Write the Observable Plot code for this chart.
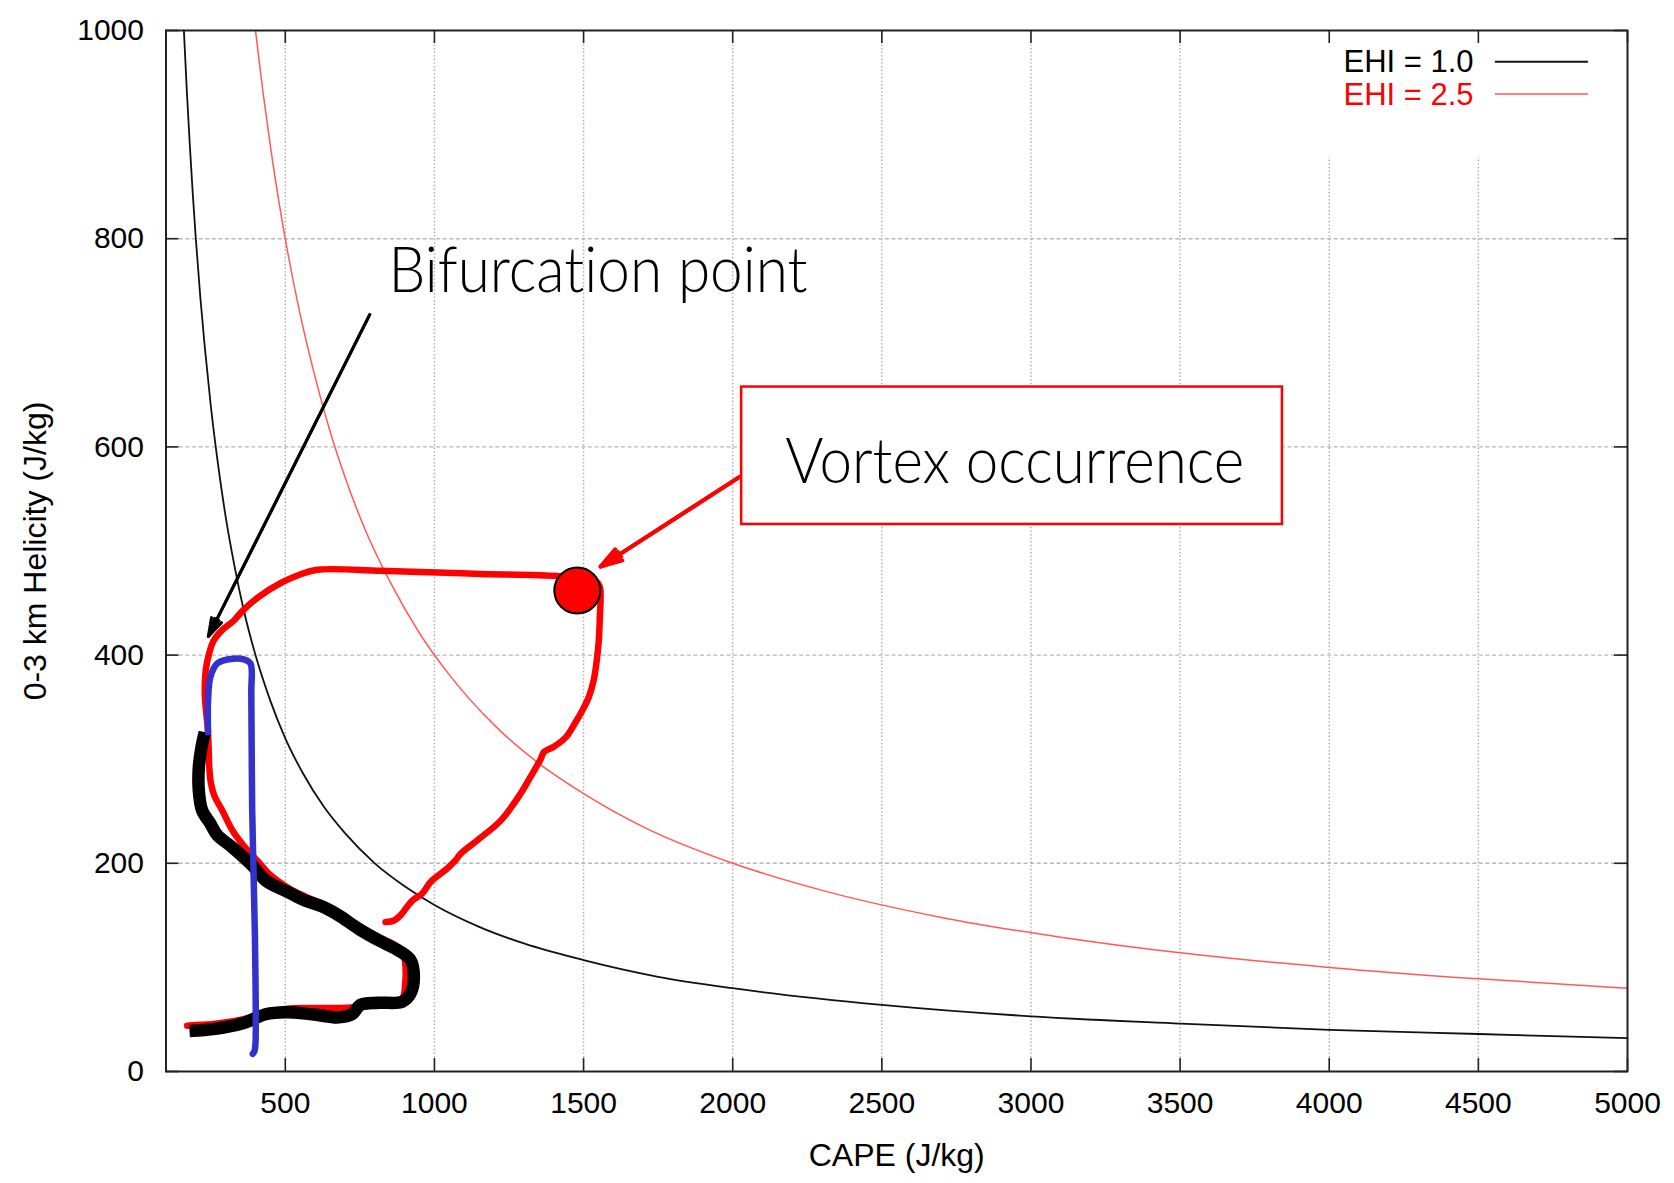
<!DOCTYPE html>
<html>
<head>
<meta charset="utf-8">
<script src="https://cdn.jsdelivr.net/npm/d3@7"></script>
<script src="https://cdn.jsdelivr.net/npm/@observablehq/plot@0.6"></script>
<style>
  html, body { margin: 0; padding: 0; background: #fff; }
  #chart { width: 1674px; height: 1183px; overflow: hidden; }
</style>
</head>
<body>
<div id="chart"></div>
<script>
// ---------------- data ----------------
const xTicks = [500, 1000, 1500, 2000, 2500, 3000, 3500, 4000, 4500, 5000];
const yTicks = [0, 200, 400, 600, 800, 1000];

// EHI = 1.0 curve (CAPE, 0-3 km helicity)
const ehi1Cape = [160,170,180,190,200,215,230,250,275,300,330,360,400,450,500,560,630,700,800,900,1000,1150,1300,1500,1750,2000,2500,3000,3500,4000,4500,5000];
const ehi1Srh  = [1000,941,889,842,800,744,696,640,582,533,485,444,400,356,320,286,254,229,200,178,160,139,123,107,91,80,64,53,46,40,36,32];

// EHI = 2.5 curve
const ehi25Cape = [400,425,450,480,510,550,600,650,700,770,850,950,1050,1200,1350,1500,1700,2000,2300,2700,3100,3500,4000,4500,5000];
const ehi25Srh  = [1000,941,889,833,784,727,667,615,571,519,471,421,381,333,296,267,235,200,174,148,129,114,100,89,80];

// red trajectory
const redCape = [171,220,266,355,434,501,590,679,740,800,860,893,902,903,896,870,813,746,679,624,568,512,445,411,360,322,290,262,250,245,243,240,234,230,233,244,260,288,327,355,411,490,545,607,819,1037,1154,1412,1470,1540,1554,1557,1555,1551,1543,1534,1518,1498,1470,1440,1400,1367,1356,1322,1289,1222,1143,1087,1071,1043,987,959,925,886,864,836];
const redSrh  = [44,45,46,50,56,60,61,61,62,64,64,70,85,100,112,121,129,140,153,161,168,176,190,201,217,232,250,265,278,293,310,330,347,363,385,401,414,424,433,442,456,470,477,482,481,479,478,476,474,471,466,455,440,414,392,376,360,348,334,321,312,307,300,283,267,241,222,209,203,195,182,171,164,150,145,143.5];

// black trajectory
const blackCape = [179,266,355,434,501,590,679,724,752,813,892,920,931,920,881,813,746,679,624,568,512,434,389,322,272,249,221,210,210,219,230];
const blackSrh  = [39,41,46,55,57,55,52,55,64,66,67,75,91,107,116,126,137,150,158.5,164,172,183.5,198,215.5,227,238,251,270,292,311.5,326];

// blue trajectory
const blueCape = [241,241,249,272,310,361,383,386,389,398,400,397,391];
const blueSrh  = [326,356,379,392,396,396,392,363,251,132,27,20,17];

// vortex occurrence point
const vortexCape = [1479];
const vortexSrh  = [462];

// legend
const legendLabels = ["EHI = 1.0", "EHI = 2.5"];

// annotation texts
const bifurcationText = "Bifurcation point";
const vortexText = "Vortex occurrence";
const xLabel = "CAPE (J/kg)";
const yLabel = "0-3 km Helicity (J/kg)";

// ---------------- layout / styles ----------------
const W = 1674, H = 1183;
const M = {left: 165.5, right: 47, top: 30, bottom: 112};
const ehiColors = ["#111111", "#ff5a5a"];
const legendTextColors = ["#000000", "#ff0000"];
const legendLayout = {textCape: 4484, lineCape1: 4557, lineCape2: 4869, baseSrh: [960, 928], lineSrh: [970, 939], blank: {x1: 3960, x2: 5000, y1: 878, y2: 1000}};
const annot = {
  bifArrow: {x1: 783, y1: 727, x2: 242, y2: 418},
  vortexArrow: {x1: 2022, y1: 571, x2: 1557, y2: 485},
  box: {x1: 2030, x2: 3843, y1: 525.5, y2: 657.5},
  bifText: {x: 846, y: 748.6},
  vortexText: {x: 2176, y: 565}
};
const annoFont = "Lato, 'Open Sans', sans-serif";
const annoWidths = {[bifurcationText]: 419, [vortexText]: 459};

const pts = (xs, ys) => xs.map((x, i) => ({x, y: ys[i]}));
const ehi1 = pts(ehi1Cape, ehi1Srh);
const ehi25 = pts(ehi25Cape, ehi25Srh);
const red = pts(redCape, redSrh);
const black = pts(blackCape, blackSrh);
const blue = pts(blueCape, blueSrh);
const vortex = pts(vortexCape, vortexSrh);
const legendRows = legendLabels.map((t, i) => ({t, i}));

const xTickLen = 13 / ((W - M.left - M.right) / 4900);
const yTickLen = 13 / ((H - M.top - M.bottom) / 1000);

// arrow with a solid-looking head: a wide and a narrow head drawn on top of each other
const solidArrow = (a, stroke, strokeWidth, headLength) => [
  Plot.arrow([a], {x1: "x1", y1: "y1", x2: "x2", y2: "y2", stroke, strokeWidth, headLength, headAngle: 34}),
  Plot.arrow([a], {x1: "x1", y1: "y1", x2: "x2", y2: "y2", stroke, strokeWidth, headLength, headAngle: 15})
];

const chart = Plot.plot({
  width: W,
  height: H,
  marginLeft: M.left,
  marginRight: M.right,
  marginTop: M.top,
  marginBottom: M.bottom,
  style: {fontFamily: "'Liberation Sans', Arial, sans-serif", fontSize: "30px", color: "#000", background: "#fff"},
  x: {domain: [100, 5000]},
  y: {domain: [0, 1000]},
  marks: [
    // grid
    Plot.ruleX(xTicks.filter(v => v < 5000), {x: d => d, stroke: "#a8a8a8", strokeWidth: 1.4, strokeDasharray: "1.4,2.2"}),
    Plot.ruleY(yTicks.filter(v => v > 0 && v < 1000), {y: d => d, stroke: "#b8b8b8", strokeWidth: 1.4, strokeDasharray: "4,2.6"}),
    // legend backdrop
    Plot.rect([legendLayout.blank], {x1: "x1", x2: "x2", y1: "y1", y2: "y2", fill: "#fff"}),
    // EHI curves
    Plot.line(ehi1, {x: "x", y: "y", stroke: ehiColors[0], strokeWidth: 1.8, curve: "monotone-x"}),
    Plot.line(ehi25, {x: "x", y: "y", stroke: ehiColors[1], strokeWidth: 1.5, curve: "monotone-x"}),
    // trajectories
    Plot.line(red, {x: "x", y: "y", stroke: "#ff0000", strokeWidth: 6.5, curve: "catmull-rom", strokeLinejoin: "round", strokeLinecap: "round"}),
    Plot.line(black, {x: "x", y: "y", stroke: "#000", strokeWidth: 12.5, curve: "catmull-rom", strokeLinejoin: "round", strokeLinecap: "butt"}),
    Plot.line(blue, {x: "x", y: "y", stroke: "#3333cc", strokeWidth: 6.5, curve: "catmull-rom", strokeLinejoin: "round", strokeLinecap: "round"}),
    // vortex dot
    Plot.dot(vortex, {x: "x", y: "y", r: 23, fill: "#ff0000", stroke: "#000", strokeWidth: 2}),
    // arrows
    ...solidArrow(annot.bifArrow, "#000", 3, 9.5),
    ...solidArrow(annot.vortexArrow, "#ff0000", 4, 8.5),
    // box
    Plot.rect([annot.box], {x1: "x1", x2: "x2", y1: "y1", y2: "y2", fill: "#fff", stroke: "#ff0000", strokeWidth: 2.5}),
    // annotation texts
    Plot.text([bifurcationText], {x: annot.bifText.x, y: annot.bifText.y, text: d => d, textAnchor: "start", lineAnchor: "bottom", fontSize: 63, fontFamily: annoFont, fontWeight: 300, fill: "#000"}),
    Plot.text([vortexText], {x: annot.vortexText.x, y: annot.vortexText.y, text: d => d, textAnchor: "start", lineAnchor: "bottom", fontSize: 63, fontFamily: annoFont, fontWeight: 300, fill: "#000"}),
    // legend
    Plot.text(legendRows, {x: legendLayout.textCape, y: d => legendLayout.baseSrh[d.i], text: "t", fill: d => legendTextColors[d.i], textAnchor: "end", lineAnchor: "bottom", fontSize: 31}),
    Plot.ruleY(legendRows, {y: d => legendLayout.lineSrh[d.i], x1: legendLayout.lineCape1, x2: legendLayout.lineCape2, stroke: d => ehiColors[d.i], strokeWidth: d => d.i === 0 ? 1.8 : 1.5}),
    // frame
    Plot.frame({stroke: "#222", strokeWidth: 2}),
    // inward ticks (all four sides)
    Plot.ruleX(xTicks, {x: d => d, y1: 0, y2: yTickLen, stroke: "#222", strokeWidth: 1.6}),
    Plot.ruleX(xTicks, {x: d => d, y1: 1000 - yTickLen, y2: 1000, stroke: "#222", strokeWidth: 1.6}),
    Plot.ruleY(yTicks, {y: d => d, x1: 100, x2: 100 + xTickLen, stroke: "#222", strokeWidth: 1.6}),
    Plot.ruleY(yTicks, {y: d => d, x1: 5000 - xTickLen, x2: 5000, stroke: "#222", strokeWidth: 1.6}),
    // axes (labels only)
    Plot.axisX({ticks: xTicks, tickSize: 0, tickPadding: 20, tickFormat: d => String(d), label: null, fontSize: 30}),
    Plot.axisY({ticks: yTicks, tickSize: 0, tickPadding: 22, tickFormat: d => String(d), label: null, fontSize: 30}),
    // axis titles
    Plot.text([xLabel], {frameAnchor: "bottom", dy: 84, text: d => d, fontSize: 32, textAnchor: "middle", lineAnchor: "middle"}),
    Plot.text([yLabel], {frameAnchor: "left", dx: -130, rotate: -90, text: d => d, fontSize: 32, textAnchor: "middle", lineAnchor: "middle"})
  ]
});

// fit the annotation texts to the widths they have in the original figure
d3.select(chart).selectAll("text").each(function () {
  const t = this.textContent;
  if (annoWidths[t]) {
    d3.select(this)
      .attr("textLength", annoWidths[t])
      .attr("lengthAdjust", "spacingAndGlyphs")
      .style("font-variant-ligatures", "none");
  }
});

document.getElementById("chart").appendChild(chart);
</script>
</body>
</html>
